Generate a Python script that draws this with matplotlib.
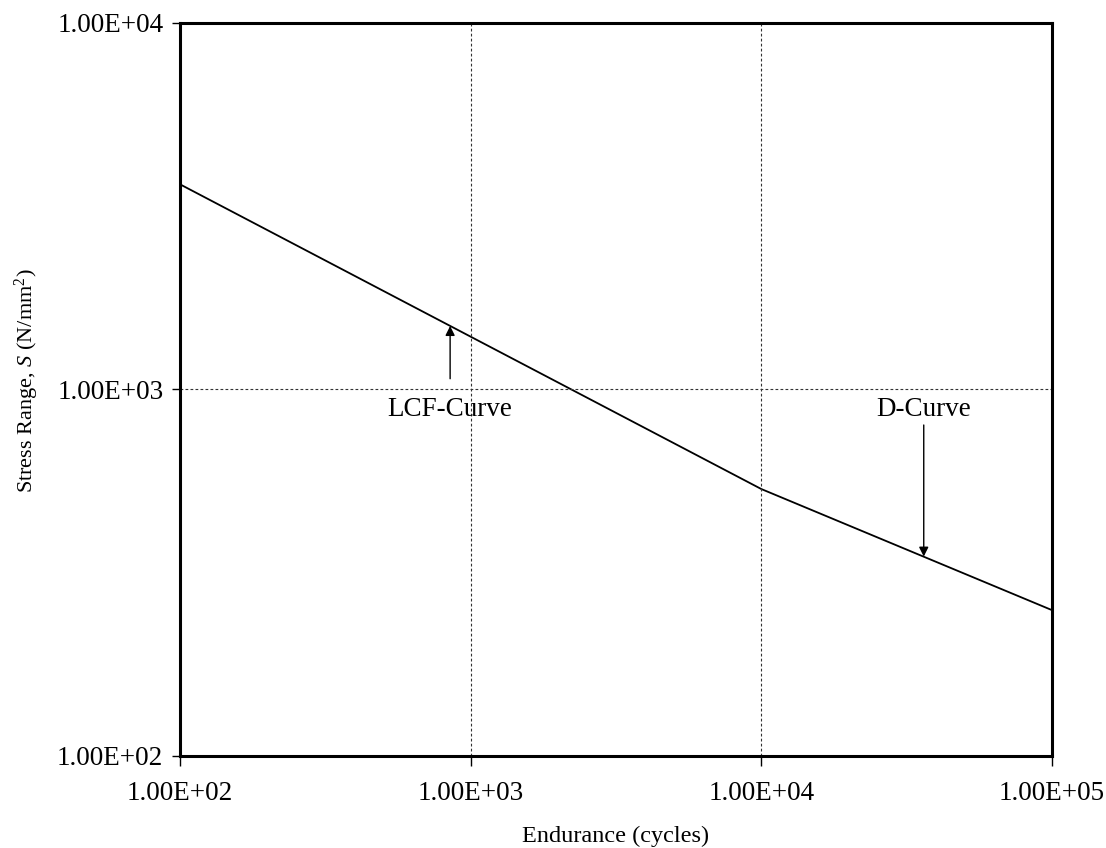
import numpy as np
import matplotlib
matplotlib.use("Agg")
import matplotlib.pyplot as plt

plt.rcParams['font.family'] = ['Liberation Serif', 'DejaVu Serif']
plt.rcParams['mathtext.fontset'] = 'custom'
plt.rcParams['mathtext.rm'] = 'Liberation Serif'
plt.rcParams['mathtext.it'] = 'Liberation Serif:italic'

# S-N curve (endurance vs stress range)
endurance = [1e2, 1e4, 1e5]
stress = [3630, 535, 250]

x_ticks = [1e2, 1e3, 1e4, 1e5]
x_tick_labels = ["1.00E+02", "1.00E+03", "1.00E+04", "1.00E+05"]
y_ticks = [1e2, 1e3, 1e4]
y_tick_labels = ["1.00E+02", "1.00E+03", "1.00E+04"]

# annotation anchors: (label, text xy, arrow tail, arrow head)
lcf_note = ("LCF-Curve", (850, 880), (850, 1070), (850, 1490))
d_note = ("D-Curve", (36200, 880), (36200, 800), (36200, 350))

fig = plt.figure(figsize=(11.06, 8.48), dpi=100)
ax = fig.add_axes([0.1627, 0.1085, 0.7885, 0.8644])

ax.plot(endurance, stress, color='black', lw=1.3)

ax.set_xscale('log')
ax.set_yscale('log')
ax.set_xlim(1e2, 1e5)
ax.set_ylim(1e2, 1e4)
ax.set_xticks(x_ticks)
ax.set_xticklabels(x_tick_labels)
ax.set_yticks(y_ticks)
ax.set_yticklabels(y_tick_labels)
ax.minorticks_off()
ax.tick_params(axis='x', direction='out', length=7, width=1, pad=11, labelsize=19.5)
ax.tick_params(axis='y', direction='out', length=6, width=1, pad=6, labelsize=19.5)

for v in x_ticks[1:-1]:
    ax.axvline(v, color='#333333', lw=0.8, ls=(0, (2.5, 2)))
for v in y_ticks[1:-1]:
    ax.axhline(v, color='#333333', lw=0.8, ls=(0, (2.5, 2)))

for s in ax.spines.values():
    s.set_linewidth(2.2)
    s.set_color('black')

ax.set_xlabel("Endurance (cycles)", fontsize=17.5)
ax.xaxis.set_label_coords(0.5, -0.095)
ax.set_ylabel(r"Stress Range, $\mathit{S}$ (N/mm$^2$)", fontsize=16)
ax.yaxis.set_label_coords(-0.159, 0.512)

for label, txt, tail, head in [lcf_note, d_note]:
    ax.annotate("", xy=head, xytext=tail,
                arrowprops=dict(arrowstyle='-|>', color='black', lw=1, mutation_scale=14,
                                shrinkA=0, shrinkB=0))
    ax.text(txt[0], txt[1], label, ha='center', va='center', fontsize=19.5)

fig.savefig("out.png", dpi=100)
